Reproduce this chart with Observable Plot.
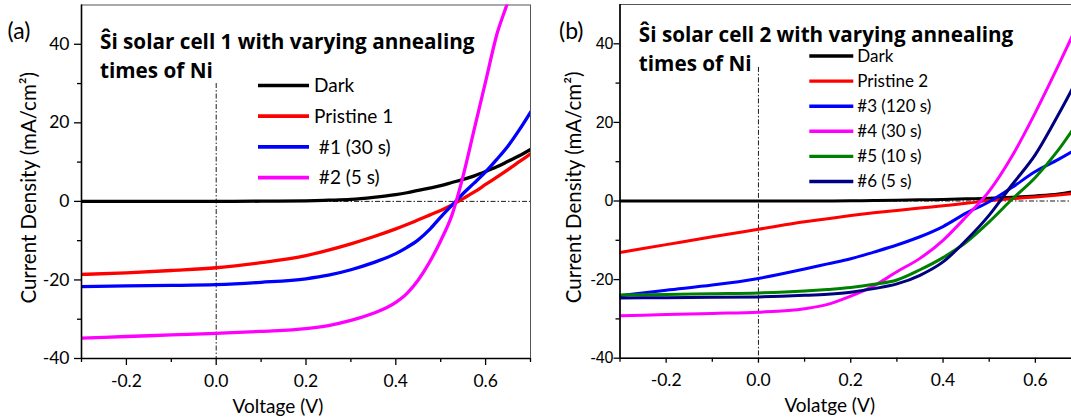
<!DOCTYPE html>
<html>
<head>
<meta charset="utf-8">
<script src="https://cdn.jsdelivr.net/npm/d3@7"></script>
<script src="https://cdn.jsdelivr.net/npm/@observablehq/plot@0.6"></script>
<style>
  html, body { margin: 0; padding: 0; background: #fff; overflow: hidden; }
  #wrap { position: relative; width: 1071px; height: 419px; overflow: hidden; }
  #panelA, #panelB { position: absolute; top: 0; }
  #panelA { left: 0; width: 540px; }
  #panelB { left: 540px; width: 545px; }
  #panelA svg, #panelB svg { max-width: none; }
  svg text { white-space: pre; }
</style>
</head>
<body>
<div id="wrap">
  <div id="panelA"></div>
  <div id="panelB"></div>
</div>
<script>
// ---- Panel (a): Si solar cell 1 ----
const voltsA = [-0.3, -0.2, -0.1, 0, 0.1, 0.2, 0.25, 0.3, 0.35, 0.4, 0.425, 0.45, 0.475, 0.5, 0.525, 0.55, 0.575, 0.6, 0.625, 0.65, 0.675, 0.7];
const darkA     = [0, 0, 0, 0, 0.05, 0.15, 0.3, 0.5, 1.0, 1.7, 2.2, 2.8, 3.4, 4.0, 4.8, 5.6, 6.5, 7.6, 8.8, 10.2, 11.6, 13.2];
const pristine1 = [-18.6, -18.2, -17.6, -16.9, -15.6, -13.8, -12.4, -10.8, -9.0, -7.0, -5.9, -4.7, -3.5, -2.3, -0.9, 0.7, 2.4, 4.3, 6.2, 8.1, 10.1, 12.1];
const cell1_30s = [-21.7, -21.5, -21.4, -21.2, -20.6, -19.7, -18.8, -17.4, -15.6, -13.3, -11.7, -9.8, -7.2, -4.0, -1.0, 2.0, 4.7, 7.5, 10.7, 14.1, 18.2, 22.7];
const cell1_5s  = [-34.8, -34.4, -34.0, -33.6, -33.1, -32.4, -31.6, -30.3, -28.5, -25.7, -23.4, -20.0, -15.5, -10.0, -3.5, 6.5, 18.5, 30.5, 42.5, 51, 61, 71];
const namesA  = ["Dark", "Pristine 1", " #1 (30 s)", " #2 (5 s)"];
const colorsA = ["#000000", "#ff0000", "#0000ff", "#ff00ff"];
const seriesA = [darkA, pristine1, cell1_30s, cell1_5s];

// ---- Panel (b): Si solar cell 2 ----
const voltsB = [-0.3, -0.2, -0.1, 0, 0.1, 0.15, 0.2, 0.25, 0.3, 0.35, 0.4, 0.45, 0.5, 0.55, 0.6, 0.65, 0.7];
const darkB      = [0, 0, 0, 0, 0, 0, 0.05, 0.1, 0.2, 0.3, 0.4, 0.55, 0.7, 0.95, 1.3, 1.8, 2.8];
const pristine2  = [-13.1, -11.1, -9.1, -7.2, -5.3, -4.5, -3.7, -3.0, -2.4, -1.8, -1.2, -0.6, 0.1, 0.6, 1.0, 1.5, 2.1];
const cell2_120s = [-24.1, -22.7, -21.4, -19.7, -17.3, -16.0, -14.7, -13.0, -11.2, -9.1, -6.5, -3.1, -0.2, 3.5, 7.5, 10.6, 14.0];
const cell2_30s  = [-29.2, -28.9, -28.6, -28.3, -27.4, -26.3, -24.2, -21.6, -18.0, -14.6, -10.0, -4.0, 2.5, 11.5, 22.5, 34.5, 47.0];
const cell2_10s  = [-23.9, -23.8, -23.6, -23.4, -22.9, -22.5, -22.0, -21.2, -20.1, -17.5, -14.4, -10.5, -5.3, 0.5, 6.0, 13.0, 21.5];
const cell2_5s   = [-24.7, -24.6, -24.5, -24.4, -24.0, -23.7, -23.2, -22.3, -21.1, -18.9, -15.5, -10.0, -3.6, 4.2, 11.8, 22.0, 33.0];
const namesB  = ["Dark", "Pristine 2", "#3 (120 s)", "#4 (30 s)", "#5 (10 s)", "#6 (5 s)"];
const colorsB = ["#000000", "#ff0000", "#0000ff", "#ff00ff", "#008000", "#000080"];
const seriesB = [darkB, pristine2, cell2_120s, cell2_30s, cell2_10s, cell2_5s];

// ---- Shared axes ----
const xDomain = [-0.3, 0.7];
const yDomain = [-40, 50];
const xMajor = [-0.2, 0, 0.2, 0.4, 0.6];
const xMinor = [-0.3, -0.1, 0.1, 0.3, 0.5, 0.7];
const yMajor = [-40, -20, 0, 20, 40];
const yMinor = [-30, -10, 10, 30];

const titleA = "Ŝi solar cell 1 with varying annealing\ntimes of Ni";
const titleB = "Ŝi solar cell 2 with varying annealing\ntimes of Ni";
const yLabel = "Current Density (mA/cm²)";

const bodyFont = "Lato, sans-serif";
const titleFont = "'Open Sans', sans-serif";

function toRows(volts, names, series) {
  const rows = [];
  series.forEach((vals, i) => vals.forEach((j, k) => rows.push({v: volts[k], j, name: names[i]})));
  return rows;
}

const dashDot = "5,2,1.5,2";

function panel(opts) {
  const {volts, names, colors, series, width, marginLeft, marginRight, marginTop, marginBottom,
         tag, tagDx, title, xTitle, xTitleDx, yTitleDx, refTop, yTickFont, yTickSize, yTickPad,
         xTickPad, xTickSize, lineWidth} = opts;
  const rows = toRows(volts, names, series);
  const svg = Plot.plot({
    width, height: 419, marginLeft, marginRight, marginTop, marginBottom,
    x: {domain: xDomain},
    y: {domain: yDomain},
    color: {domain: names, range: colors},
    style: {fontFamily: bodyFont, fontSize: "17px", color: "#000", background: "transparent", overflow: "visible"},
    marks: [
      Plot.frame({stroke: "#555", strokeWidth: 1}),
      Plot.ruleX([0], {y1: refTop, y2: -40, stroke: "#000", strokeWidth: 0.9, strokeDasharray: dashDot}),
      Plot.ruleY([0], {stroke: "#000", strokeWidth: 0.9, strokeDasharray: dashDot}),
      Plot.line(rows, {x: "v", y: "j", z: "name", stroke: "name", strokeWidth: lineWidth, curve: "monotone-x", clip: true}),
      Plot.ruleX([xDomain[0]], {stroke: "#000", strokeWidth: 1.6}),
      Plot.ruleY([yDomain[0]], {stroke: "#000", strokeWidth: 1.6}),
      Plot.axisX({ticks: xMajor, tickSize: xTickSize, tickPadding: xTickPad, tickFormat: d => d.toFixed(1), label: null, fontSize: 17.5, strokeWidth: 1.3}),
      Plot.axisX({ticks: xMinor, tickSize: 4, tickFormat: () => "", label: null, strokeWidth: 1.3}),
      Plot.axisY({ticks: yMajor, tickSize: yTickSize, tickPadding: yTickPad, tickFormat: d => String(d), label: null, fontSize: yTickFont.size, fontFamily: yTickFont.family, strokeWidth: 1.3}),
      Plot.axisY({ticks: yMinor, tickSize: 4, tickFormat: () => "", label: null, strokeWidth: 1.3}),
      Plot.text([xTitle], {frameAnchor: "bottom", textAnchor: "middle", dx: xTitleDx, dy: 48, fontSize: 19, lineAnchor: "middle"}),
      Plot.text([yLabel], {frameAnchor: "left", textAnchor: "middle", rotate: -90, dx: yTitleDx, dy: 6, fontSize: 20.5, lineAnchor: "middle"}),
      Plot.text([tag], {frameAnchor: "top-left", textAnchor: "start", dx: tagDx, dy: opts.tagDy, fontSize: 23, lineAnchor: "middle"}),
      Plot.text([title], {frameAnchor: "top-left", textAnchor: "start", dx: opts.titleDx, dy: opts.titleDy, fontFamily: titleFont, fontSize: 20.7, fontWeight: "bold", lineAnchor: "top", lineHeight: 1.4})
    ]
  });

  // Legend: swatch line + label for each series, stacked inside the plot area
  const lg = d3.select(svg).append("g")
    .attr("font-family", bodyFont).attr("font-size", opts.legend.fontSize).attr("text-anchor", "start");
  names.forEach((name, i) => {
    const y = opts.legend.y0 + i * opts.legend.step;
    lg.append("line").attr("x1", opts.legend.x1).attr("x2", opts.legend.x2).attr("y1", y).attr("y2", y)
      .attr("stroke", colors[i]).attr("stroke-width", lineWidth + 0.4);
    lg.append("text").attr("x", opts.legend.tx).attr("y", y).attr("dy", "0.35em").text(name);
  });
  return svg;
}

document.getElementById("panelA").append(panel({
  volts: voltsA, names: namesA, colors: colorsA, series: seriesA,
  width: 540, marginLeft: 81, marginRight: 10, marginTop: 4.5, marginBottom: 61,
  tag: "(a)", tagDx: -74, tagDy: 27, title: titleA, titleDx: 18.5, titleDy: 23.5,
  xTitle: "Voltage (V)", xTitleDx: -28, yTitleDx: -52, refTop: 30,
  yTickFont: {size: 17.5, family: bodyFont}, yTickSize: 7, yTickPad: 5,
  xTickSize: 7, xTickPad: 9, lineWidth: 3.3,
  legend: {x1: 258, x2: 309, tx: 314, y0: 85.5, step: 30.7, fontSize: 19}
}));

document.getElementById("panelB").append(panel({
  volts: voltsB, names: namesB, colors: colorsB, series: seriesB,
  width: 545, marginLeft: 79.5, marginRight: 4, marginTop: 4, marginBottom: 61.3,
  tag: "(b)", tagDx: -61, tagDy: 27.5, title: titleB, titleDx: 18.8, titleDy: 16.5,
  xTitle: "Volatge (V)", xTitleDx: -21, yTitleDx: -45.5, refTop: 34,
  yTickFont: {size: 16, family: "'Liberation Sans', Arial, sans-serif"}, yTickSize: 6, yTickPad: 0.5,
  xTickSize: 5, xTickPad: 10, lineWidth: 3,
  legend: {x1: 269.3, x2: 313.3, tx: 317.3, y0: 56, step: 25.1, fontSize: 17}
}));
</script>
</body>
</html>
